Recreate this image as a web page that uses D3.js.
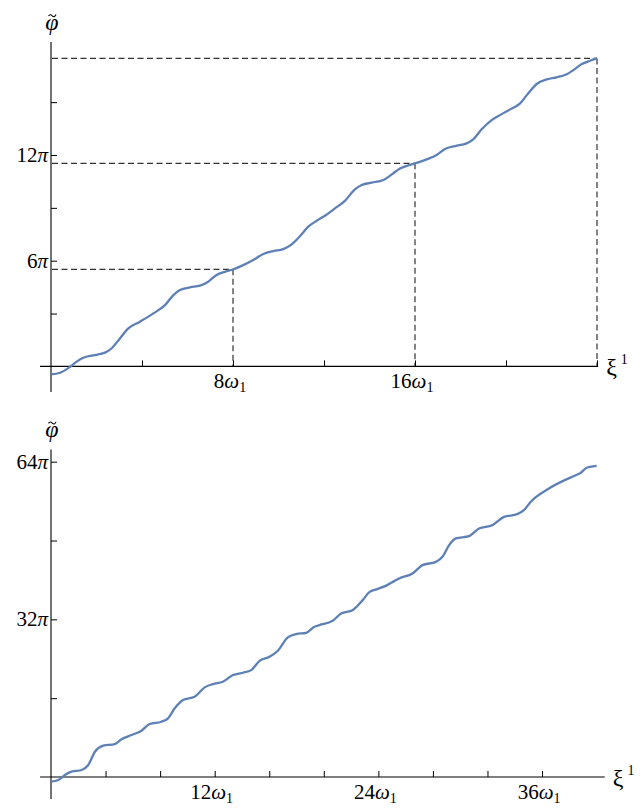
<!DOCTYPE html>
<html>
<head>
<meta charset="utf-8">
<script src="https://cdn.jsdelivr.net/npm/d3@7"></script>
<style>
  body { margin: 0; background: #fff; }
  text { font-family: "Liberation Serif", "Times New Roman", serif; fill: #000; }
</style>
</head>
<body>
<div id="chart"></div>
<script>
// top panel: phase vs xi (units of omega_1 and pi)
var topU = [0, 0.40, 0.84, 1.13, 1.42, 1.86, 2.37, 2.67, 3.03, 3.40, 3.91, 4.50, 5.01, 5.38, 5.67, 6.11,
  6.55, 6.91, 7.28, 7.65, 7.99, 8.45, 8.89, 9.33, 9.77, 10.21, 10.58, 10.95, 11.31, 11.68, 12.04, 12.48,
  12.92, 13.36, 13.66, 14.10, 14.61, 14.98, 15.34, 15.71, 16.00, 16.51, 16.95, 17.32, 17.76, 18.27, 18.56,
  18.93, 19.37, 19.81, 20.18, 20.62, 20.98, 21.35, 21.79, 22.23, 22.67, 22.96, 23.33, 23.69, 24.0];
var topV = [-0.45, -0.36, -0.02, 0.27, 0.49, 0.63, 0.78, 1.03, 1.59, 2.16, 2.54, 3.01, 3.48, 4.05, 4.33, 4.49,
  4.58, 4.81, 5.19, 5.37, 5.50, 5.75, 6.04, 6.38, 6.55, 6.66, 6.93, 7.40, 7.93, 8.27, 8.55, 8.97,
  9.40, 10.05, 10.30, 10.43, 10.58, 10.90, 11.24, 11.41, 11.52, 11.75, 12.00, 12.34, 12.51, 12.66, 12.89,
  13.46, 13.98, 14.32, 14.59, 14.93, 15.50, 16.03, 16.29, 16.41, 16.58, 16.82, 17.16, 17.35, 17.48];
var topXTicks = [4, 8, 12, 16, 20, 24];
var topXLabels = [8, 16];
var topYTicks = [3, 6, 9, 12, 15];
var topYLabels = [6, 12];
var dropU = [8, 16, 24];
var dropV = [5.51, 11.53, 17.48];

// bottom panel
var botU = [0, 0.53, 1.02, 1.51, 2.25, 2.73, 3.22, 3.83, 4.68, 5.17, 5.90, 6.63, 7.24, 8.10, 8.58, 9.07,
  9.68, 10.53, 11.27, 11.87, 12.60, 13.34, 14.07, 14.68, 15.29, 16.02, 16.63, 17.36, 17.97, 18.71, 19.31,
  19.68, 20.65, 21.27, 22.11, 22.85, 23.34, 23.92, 24.65, 25.16, 25.53, 26.50, 27.23, 28.22, 28.70, 29.19,
  29.68, 30.65, 31.38, 32.36, 33.21, 34.18, 34.67, 35.16, 36.50, 38.46, 38.82, 39.31, 40.0];
var botV = [-0.95, -0.61, 0.41, 1.08, 1.42, 2.43, 5.13, 6.35, 6.69, 7.65, 8.52, 9.39, 10.75, 11.22, 11.91, 13.94,
  15.62, 16.29, 18.19, 18.86, 19.33, 20.69, 21.16, 21.70, 23.59, 24.40, 25.62, 28.34, 29.01, 29.27, 30.49,
  30.83, 31.70, 33.20, 33.87, 35.90, 37.53, 38.13, 38.95, 39.76, 40.30, 41.32, 43.00, 43.67, 44.69, 47.06,
  48.42, 48.88, 50.45, 51.12, 52.80, 53.35, 54.16, 55.84, 58.56, 61.26, 61.72, 62.82, 63.14];
var botXTicks = [4, 8, 12, 16, 20, 24, 28, 32, 36];
var botXLabels = [12, 24, 36];
var botYTicks = [16, 32, 48, 64];
var botYLabels = [32, 64];

var svg = d3.select('#chart').append('svg').attr('width', 644).attr('height', 808);

function panel(cfg) {
  var x = d3.scaleLinear().domain(cfg.xd).range(cfg.xr);
  var y = d3.scaleLinear().domain(cfg.yd).range(cfg.yr);
  var g = svg.append('g');

  // dashed guides
  if (cfg.drops) {
    cfg.drops.u.forEach(function (u, i) {
      var v = cfg.drops.v[i];
      g.append('line').attr('x1', x(0) + 1).attr('x2', x(u)).attr('y1', y(v)).attr('y2', y(v))
        .attr('stroke', '#333').attr('stroke-width', 1.2).attr('stroke-dasharray', '6,3.5');
      g.append('line').attr('x1', x(u)).attr('x2', x(u)).attr('y1', y(v)).attr('y2', y(0))
        .attr('stroke', '#333').attr('stroke-width', 1.2).attr('stroke-dasharray', '6,3.5');
    });
  }

  // axes
  var xa = g.append('g').attr('transform', 'translate(0,' + y(0) + ')')
    .call(d3.axisBottom(x).tickValues(cfg.xt).tickSizeInner(-6).tickSizeOuter(0).tickFormat(''));
  xa.select('.domain').remove();
  xa.selectAll('line').attr('stroke', '#000');
  var ya = g.append('g').attr('transform', 'translate(' + x(0) + ',0)')
    .call(d3.axisLeft(y).tickValues(cfg.yt).tickSizeInner(-6).tickSizeOuter(0).tickFormat(''));
  ya.select('.domain').remove();
  ya.selectAll('line').attr('stroke', '#000');

  g.append('line').attr('x1', x(cfg.xExt[0])).attr('x2', x(cfg.xExt[1])).attr('y1', y(0)).attr('y2', y(0))
    .attr('stroke', '#000').attr('stroke-width', 1.1);
  g.append('line').attr('x1', x(0)).attr('x2', x(0)).attr('y1', y(cfg.yExt[0])).attr('y2', y(cfg.yExt[1]))
    .attr('stroke', '#000').attr('stroke-width', 1.1);

  // tick labels
  cfg.xl.forEach(function (u) {
    var t = g.append('text').attr('x', x(u) - 3).attr('y', y(0) + 22)
      .attr('text-anchor', 'middle').attr('font-size', 21);
    t.append('tspan').text(u);
    t.append('tspan').attr('font-style', 'italic').text('ω');
    t.append('tspan').attr('font-size', 14).attr('dy', 4).text('1');
  });
  cfg.yl.forEach(function (v) {
    var t = g.append('text').attr('x', x(0) - 3).attr('y', y(v) + 7)
      .attr('text-anchor', 'end').attr('font-size', 21);
    t.append('tspan').text(v);
    t.append('tspan').attr('font-style', 'italic').text('π');
  });

  // axis titles: phi, with the tilde accent drawn as a small stroke
  var top = y(cfg.yExt[1]);
  g.append('text').attr('x', x(0) + 1).attr('y', top - 12).attr('text-anchor', 'middle')
    .attr('font-size', 24).attr('font-style', 'italic').text('φ');
  g.append('path')
    .attr('d', 'M' + (x(0) - 2.5) + ',' + (top - 26) + ' c1.5,-2.5 3,-1 4,0 s2.5,1 3.5,-1.5')
    .attr('fill', 'none').attr('stroke', '#000').attr('stroke-width', 1.1);
  var xt = g.append('text').attr('x', x(cfg.xExt[1]) + 8).attr('y', y(0) + 9).attr('font-size', 24);
  xt.append('tspan').text('ξ');
  xt.append('tspan').attr('font-size', 14).attr('dx', 4).attr('dy', -11).text('1');

  // curve
  var pts = cfg.u.map(function (u, i) { return [u, cfg.v[i]]; });
  g.append('path').datum(pts)
    .attr('d', d3.line().x(function (d) { return x(d[0]); }).y(function (d) { return y(d[1]); })
      .curve(d3.curveMonotoneX))
    .attr('fill', 'none').attr('stroke', '#5E81B5').attr('stroke-width', 2.3)
    .attr('stroke-linejoin', 'round');
}

panel({
  xd: [0, 24], xr: [51, 597], yd: [0, 12], yr: [366.4, 155],
  xExt: [-0.48, 24.05], yExt: [-1.45, 18.41],
  xt: topXTicks, xl: topXLabels, yt: topYTicks, yl: topYLabels,
  u: topU, v: topV, drops: { u: dropU, v: dropV }
});

panel({
  xd: [0, 40], xr: [51, 596.6], yd: [0, 64], yr: [777, 461.7],
  xExt: [-0.8, 40.6], yExt: [-4.46, 66.5],
  xt: botXTicks, xl: botXLabels, yt: botYTicks, yl: botYLabels,
  u: botU, v: botV
});
</script>
</body>
</html>
